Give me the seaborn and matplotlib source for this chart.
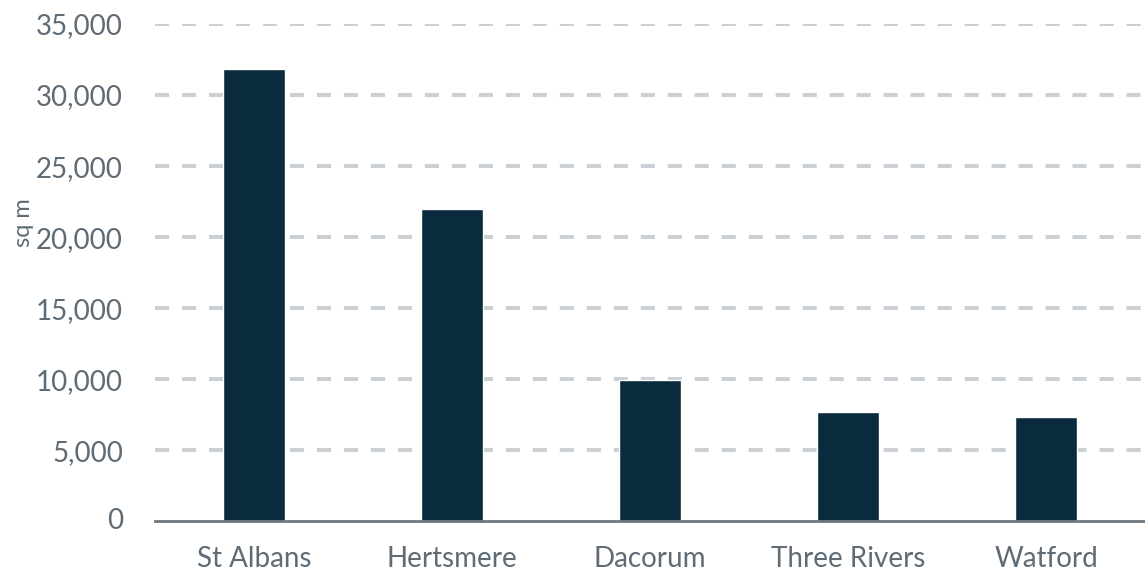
import pandas as pd
import seaborn as sns
import matplotlib.pyplot as plt
from matplotlib.ticker import FuncFormatter

# Data
districts = ['St Albans', 'Hertsmere', 'Dacorum', 'Three Rivers', 'Watford']
floorspace = [31800, 22000, 9900, 7700, 7300]

df = pd.DataFrame({'district': districts, 'sqm': floorspace})

sns.set_style('white')
plt.rcParams['font.family'] = ['Lato', 'DejaVu Sans']

fig = plt.figure(figsize=(11.45, 5.79), dpi=100)
ax = fig.add_axes([0.1354, 0.1, 0.8646, 0.8585])

sns.barplot(data=df, x='district', y='sqm', color='#0a2b3e', width=0.31,
            saturation=1, ax=ax, zorder=3)

ax.set_ylim(0, 35000)
ax.set_xlim(-0.5, 4.5)
ax.set_yticks(range(5000, 35001, 5000))
ax.yaxis.set_major_formatter(FuncFormatter(lambda v, p: f'{int(v):,}'))

ax.grid(axis='y', color='#cbd0d5', lw=2.9, ls=(0, (3.5, 3.2)), zorder=0)
ax.grid(axis='x', visible=False)
ax.set_axisbelow(True)
# zero label without a grid line underneath the axis
ax.text(-0.0323, 0, '0', transform=ax.get_yaxis_transform(), ha='right',
        va='center', fontsize=20, color='#5f6b75')

for s in ['top', 'right', 'left']:
    ax.spines[s].set_visible(False)
ax.spines['bottom'].set_color('#6e7880')
ax.spines['bottom'].set_linewidth(2)
ax.spines['bottom'].set_zorder(4)

ax.tick_params(axis='both', length=0, labelsize=20, labelcolor='#5f6b75')
ax.tick_params(axis='y', pad=23)
ax.tick_params(axis='x', pad=18)

ax.set_xlabel('')
ax.set_ylabel('sq m', fontsize=17, color='#5f6b75')
ax.yaxis.set_label_coords(-0.122, 0.6)

fig.savefig('out.png', dpi=100)
